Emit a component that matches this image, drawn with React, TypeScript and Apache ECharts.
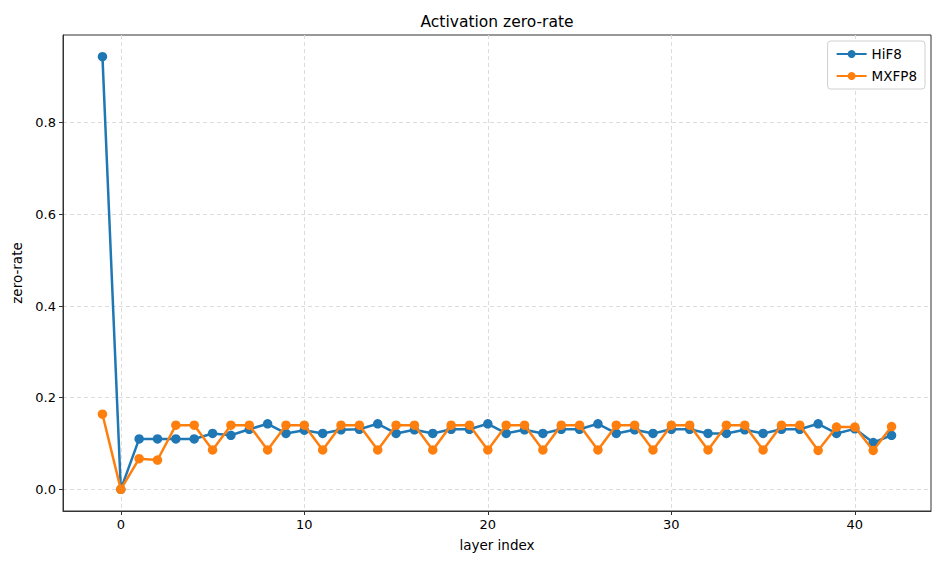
import React, { useEffect, useRef } from "react";
import * as echarts from "echarts";

const layers = [-1, 0, 1, 2, 3, 4, 5, 6, 7, 8, 9, 10, 11, 12, 13, 14, 15, 16, 17, 18, 19, 20, 21, 22, 23, 24, 25, 26, 27, 28, 29, 30, 31, 32, 33, 34, 35, 36, 37, 38, 39, 40, 41, 42];
const hif8 = [0.944, 0.0, 0.11, 0.11, 0.11, 0.11, 0.122, 0.118, 0.131, 0.143, 0.122, 0.129, 0.122, 0.13, 0.131, 0.143, 0.122, 0.13, 0.122, 0.131, 0.131, 0.143, 0.122, 0.13, 0.122, 0.131, 0.131, 0.143, 0.122, 0.13, 0.122, 0.131, 0.131, 0.122, 0.122, 0.13, 0.122, 0.131, 0.131, 0.143, 0.122, 0.132, 0.102, 0.118];
const mxfp8 = [0.164, 0.0, 0.067, 0.064, 0.14, 0.14, 0.086, 0.14, 0.14, 0.086, 0.14, 0.14, 0.086, 0.14, 0.14, 0.086, 0.14, 0.14, 0.086, 0.14, 0.14, 0.086, 0.14, 0.14, 0.086, 0.14, 0.14, 0.086, 0.14, 0.14, 0.086, 0.14, 0.14, 0.086, 0.14, 0.14, 0.086, 0.14, 0.14, 0.085, 0.136, 0.136, 0.085, 0.137];
const xTicks = [0, 10, 20, 30, 40];
const yTicks = [0, 0.2, 0.4, 0.6, 0.8];

const FONT = "DejaVu Sans";

export default function App() {
  const ref = useRef<HTMLDivElement>(null);
  useEffect(() => {
    if (!ref.current) return;
    const chart = echarts.init(ref.current, null, { renderer: "svg" });
    const gridLine = { show: true, lineStyle: { color: "#dcdcdc", type: [4, 3], width: 1 } };
    chart.setOption({
      animation: false,
      backgroundColor: "#ffffff",
      textStyle: { fontFamily: FONT },
      graphic: [
        {
          type: "text",
          x: 497,
          y: 22,
          style: { text: "Activation zero-rate", font: `15.5px "${FONT}"`, fill: "#000", textAlign: "center", textVerticalAlign: "middle" },
        },
      ],
      legend: {
        orient: "vertical",
        right: 21,
        top: 41,
        backgroundColor: "#fff",
        borderColor: "#d0d0d0",
        borderWidth: 1,
        borderRadius: 3,
        padding: [6, 8, 6, 8],
        itemGap: 8,
        itemWidth: 30,
        itemHeight: 10,
        textStyle: { fontFamily: FONT, fontSize: 13.5, color: "#000" },
        data: ["HiF8", "MXFP8"],
      },
      grid: {
        left: 63,
        right: 15,
        top: 35,
        bottom: 56,
        show: true,
        borderColor: "#333",
        borderWidth: 1,
        backgroundColor: "transparent",
      },
      xAxis: {
        type: "value",
        min: -3.15,
        max: 44.15,
        splitNumber: 5,
        name: "layer index",
        nameLocation: "middle",
        nameGap: 27,
        nameTextStyle: { fontFamily: FONT, fontSize: 13.5, color: "#000" },
        axisLine: { show: true, onZero: false, lineStyle: { color: "#333", width: 1 } },
        axisTick: { show: true, length: 4, lineStyle: { color: "#333" }, customValues: xTicks },
        axisLabel: { customValues: xTicks, fontFamily: FONT, fontSize: 13, color: "#000", margin: 7, formatter: (v: number) => String(v) },
        splitLine: gridLine,
      },
      yAxis: {
        type: "value",
        min: -0.0472,
        max: 0.9912,
        splitNumber: 5,
        name: "zero-rate",
        nameLocation: "middle",
        nameGap: 36,
        nameRotate: 90,
        nameTextStyle: { fontFamily: FONT, fontSize: 13.5, color: "#000" },
        axisLine: { show: true, onZero: false, lineStyle: { color: "#333", width: 1 } },
        axisTick: { show: true, length: 4, lineStyle: { color: "#333" }, customValues: yTicks },
        axisLabel: { customValues: yTicks, fontFamily: FONT, fontSize: 13, color: "#000", margin: 7, formatter: (v: number) => v.toFixed(1) },
        splitLine: gridLine,
      },
      series: [
        {
          name: "HiF8",
          type: "line",
          data: layers.map((x, i) => [x, hif8[i]]),
          symbol: "circle",
          symbolSize: 9.5,
          showAllSymbol: true,
          lineStyle: { color: "#1f77b4", width: 2.5 },
          itemStyle: { color: "#1f77b4" },
          z: 2,
        },
        {
          name: "MXFP8",
          type: "line",
          data: layers.map((x, i) => [x, mxfp8[i]]),
          symbol: "circle",
          symbolSize: 9.5,
          showAllSymbol: true,
          lineStyle: { color: "#ff7f0e", width: 2.5 },
          itemStyle: { color: "#ff7f0e" },
          z: 3,
        },
      ],
    });
    return () => chart.dispose();
  }, []);
  return <div ref={ref} style={{ position: "fixed", left: 0, top: 0, width: 946, height: 567 }} />;
}
